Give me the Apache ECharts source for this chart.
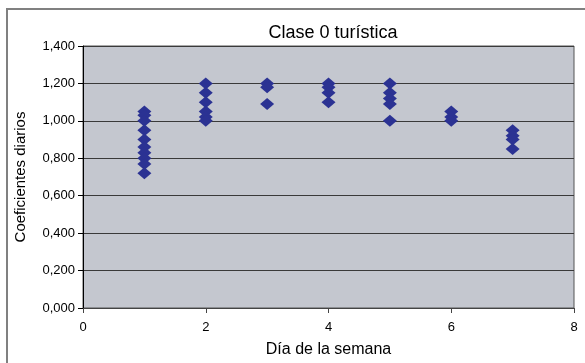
<!DOCTYPE html>
<html>
<head>
<meta charset="utf-8">
<script src="https://cdn.jsdelivr.net/npm/echarts@6/dist/echarts.min.js"></script>
<style>html,body{margin:0;padding:0;background:#fff}#c{width:585px;height:363px}</style>
</head>
<body>
<div id="c"></div>
<script>
const titleText = 'Clase 0 turística';
const xAxisName = 'Día de la semana';
const yAxisName = 'Coeficientes diarios';
const day1 = [1.05, 1.03, 1.00, 0.95, 0.90, 0.86, 0.83, 0.80, 0.77, 0.72];
const day2 = [1.20, 1.15, 1.10, 1.05, 1.02, 1.00];
const day3 = [1.20, 1.18, 1.09];
const day4 = [1.20, 1.18, 1.15, 1.10];
const day5 = [1.20, 1.15, 1.12, 1.09, 1.00];
const day6 = [1.05, 1.02, 1.00];
const day7 = [0.95, 0.92, 0.90, 0.85];
const days = [1, 2, 3, 4, 5, 6, 7];
const values = [day1, day2, day3, day4, day5, day6, day7];

const points = [];
days.forEach((d, i) => values[i].forEach(v => points.push([d, v])));

const chart = echarts.init(document.getElementById('c'), null, {renderer: 'canvas'});
const font = 'Liberation Sans, Arial, sans-serif';
chart.setOption({
  animation: false,
  backgroundColor: '#ffffff',
  title: {
    text: titleText, left: 328, top: 19, textAlign: 'center',
    textStyle: {fontFamily: font, fontSize: 18, fontWeight: 'normal', color: '#000'}
  },
  graphic: [{
    type: 'rect', shape: {x: 7, y: 9, width: 620, height: 400},
    style: {fill: 'none', stroke: '#808080', lineWidth: 2}, z: -1
  }],
  grid: {left: 83, top: 46, right: 11, bottom: 55, show: true, backgroundColor: '#c4c7cf', borderColor: '#555', borderWidth: 1},
  xAxis: {
    type: 'value', min: 0, max: 8, interval: 2,
    name: xAxisName, nameLocation: 'middle', nameGap: 34,
    nameTextStyle: {fontFamily: font, fontSize: 16, color: '#000'},
    axisLine: {show: true, onZero: false, lineStyle: {color: '#444', width: 1}},
    axisTick: {show: true, inside: false, length: 5, lineStyle: {color: '#444'}},
    axisLabel: {fontFamily: font, fontSize: 13, color: '#000', margin: 13},
    splitLine: {show: false}
  },
  yAxis: {
    type: 'value', min: 0, max: 1.4, interval: 0.2,
    name: yAxisName, nameLocation: 'middle', nameGap: 55, nameRotate: 90,
    nameTextStyle: {fontFamily: font, fontSize: 15, color: '#000'},
    axisLine: {show: true, lineStyle: {color: '#000', width: 1}},
    axisTick: {show: true, inside: false, length: 5, lineStyle: {color: '#000'}},
    axisLabel: {fontFamily: font, fontSize: 13, color: '#000', margin: 8,
      formatter: v => v.toFixed(3).replace('.', ',')},
    splitLine: {show: true, lineStyle: {color: '#3a3a3a', width: 1}}
  },
  series: [{
    type: 'scatter', data: points, symbol: 'diamond', symbolSize: [14, 12],
    itemStyle: {color: '#2b3293', opacity: 1}
  }]
});
</script>
</body>
</html>
